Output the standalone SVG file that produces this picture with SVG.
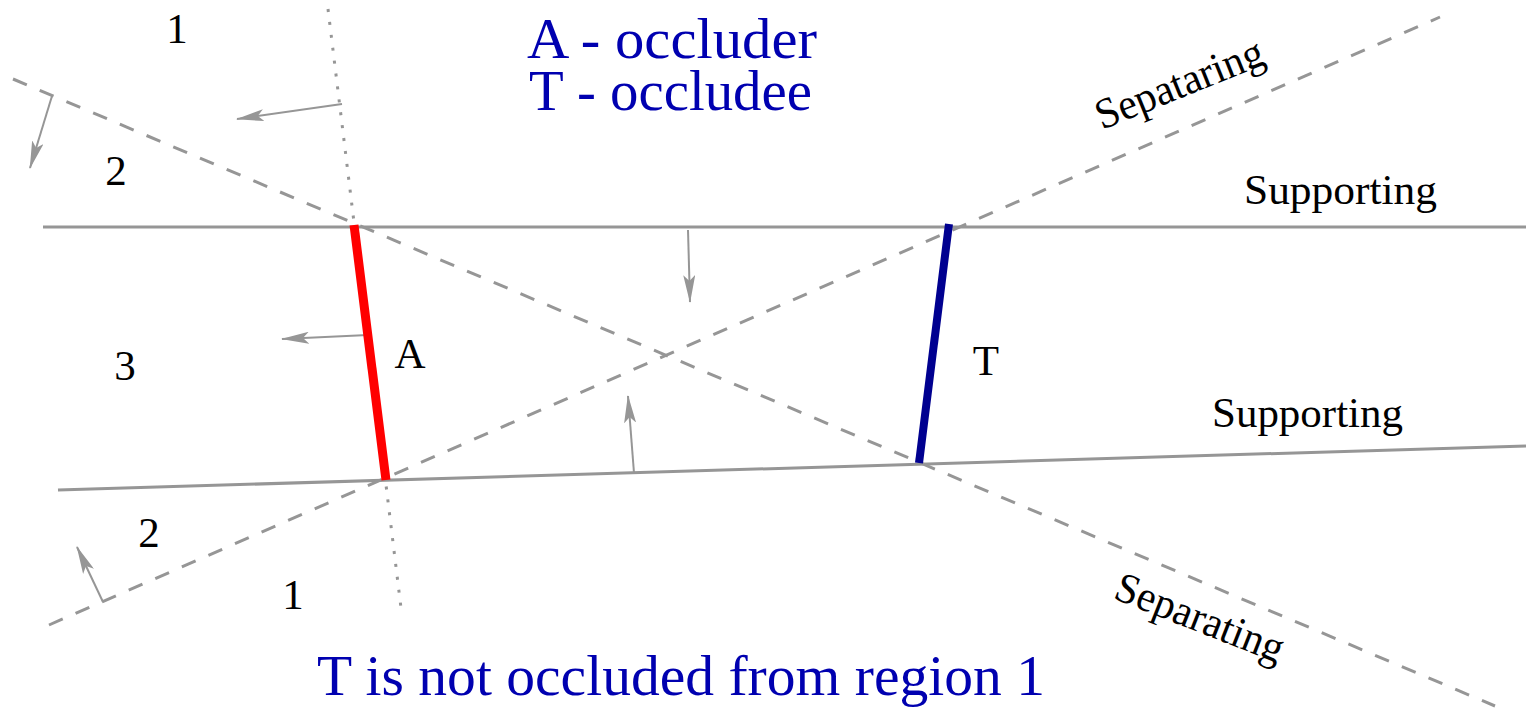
<svg xmlns="http://www.w3.org/2000/svg" width="1526" height="709" viewBox="0 0 1526 709">
<style>
.sup{stroke:#969696;stroke-width:3;fill:none}
.sep{stroke:#969696;stroke-width:3;fill:none;stroke-dasharray:15 14}
.dot{stroke:#969696;stroke-width:3;fill:none;stroke-dasharray:3 10}
.arr{stroke:#969696;stroke-width:2;fill:none;marker-end:url(#ah)}
.lbl{font-family:"Liberation Serif","Times New Roman",serif;font-size:43px;fill:#000}
.big{font-family:"Liberation Serif","Times New Roman",serif;font-size:57px;fill:#0000b0}
</style>
<defs>
<marker id="ah" viewBox="0 0 28 12" refX="27" refY="6" markerWidth="28" markerHeight="12" markerUnits="userSpaceOnUse" orient="auto">
<path d="M0,0 L28,6 L0,12 L6,6 z" fill="#969696"/>
</marker>
</defs>
<rect width="1526" height="709" fill="#fff"/>
<g id="connectors">
<line class="sup" x1="43" y1="227" x2="1526" y2="227"/>
<line class="sup" x1="58" y1="490" x2="1526" y2="446"/>
<line class="sep" x1="13" y1="79" x2="1495" y2="706"/>
<line class="sep" x1="49" y1="625" x2="1440" y2="17"/>
<line class="dot" x1="328" y1="9" x2="401" y2="608"/>
<line class="arr" x1="342" y1="104" x2="237" y2="119"/>
<line class="arr" x1="52" y1="96" x2="30" y2="168"/>
<line class="arr" x1="368" y1="335" x2="282" y2="339"/>
<line class="arr" x1="688" y1="230" x2="690" y2="302"/>
<line class="arr" x1="634" y1="473" x2="628" y2="396"/>
<line class="arr" x1="103" y1="602" x2="77" y2="547"/>
</g>
<g id="occluder-A">
<line x1="354" y1="225" x2="386" y2="480" stroke="#ff0000" stroke-width="9"/>
<text class="lbl" x="410" y="368" text-anchor="middle">A</text>
</g>
<g id="occludee-T">
<line x1="949" y1="224" x2="919" y2="463" stroke="#000090" stroke-width="8"/>
<text class="lbl" x="986" y="375" text-anchor="middle">T</text>
</g>
<g id="regions">
<text class="lbl" x="177" y="43" text-anchor="middle">1</text>
<text class="lbl" x="116" y="185" text-anchor="middle">2</text>
<text class="lbl" x="125" y="380" text-anchor="middle">3</text>
<text class="lbl" x="149" y="547" text-anchor="middle">2</text>
<text class="lbl" x="293" y="609" text-anchor="middle">1</text>
</g>
<g id="line-labels">
<text class="lbl" x="1244" y="204" textLength="193" lengthAdjust="spacingAndGlyphs">Supporting</text>
<text class="lbl" x="1212" y="427" textLength="191" lengthAdjust="spacingAndGlyphs">Supporting</text>
<text class="lbl" transform="translate(1102,130) rotate(-22)" textLength="178" lengthAdjust="spacingAndGlyphs">Sepataring</text>
<text class="lbl" transform="translate(1112,598) rotate(21.5)" textLength="178" lengthAdjust="spacingAndGlyphs">Separating</text>
</g>
<g id="titles">
<text class="big" x="527" y="58" textLength="290" lengthAdjust="spacingAndGlyphs">A - occluder</text>
<text class="big" x="529" y="110" textLength="283" lengthAdjust="spacingAndGlyphs">T - occludee</text>
<text class="big" x="317" y="695" textLength="728" lengthAdjust="spacingAndGlyphs">T is not occluded from region 1</text>
</g>
</svg>
